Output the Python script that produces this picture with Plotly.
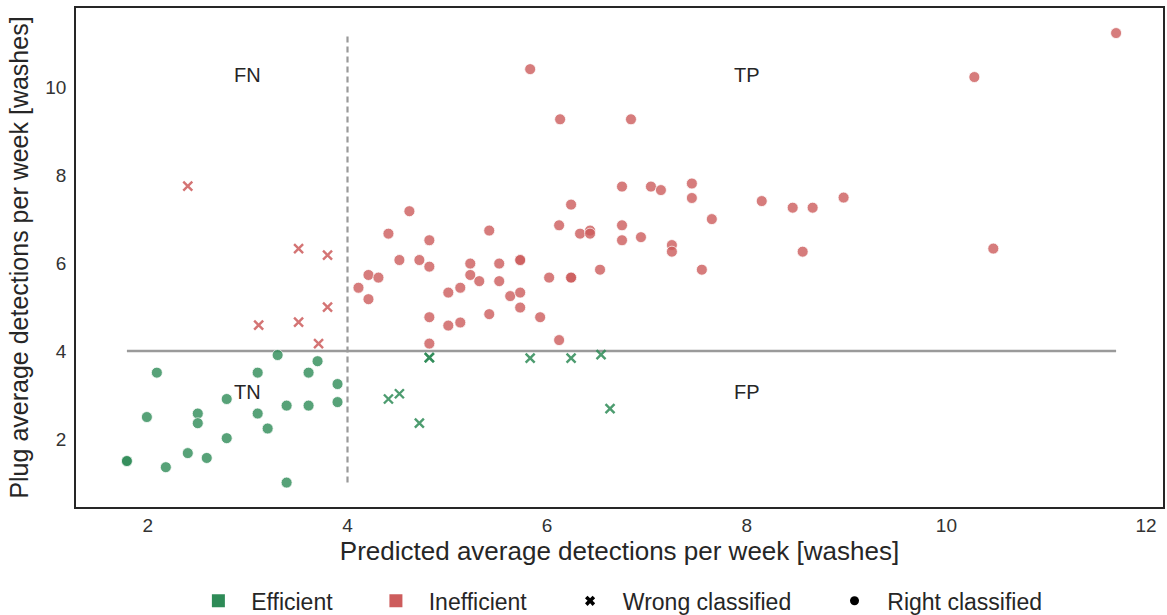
import plotly.graph_objects as go

# ---------------- data ----------------
THRESHOLD = 4

# Efficient, right classified (TN)
eff_right_x = [1.79, 1.79, 2.09, 1.99, 2.18, 2.40, 2.50, 2.50, 2.59, 2.79, 2.79,
               3.10, 3.10, 3.20, 3.30, 3.39, 3.39, 3.61, 3.61, 3.70, 3.90, 3.90]
eff_right_y = [1.50, 1.50, 3.51, 2.50, 1.36, 1.68, 2.58, 2.36, 1.57, 2.91, 2.02,
               3.51, 2.58, 2.24, 3.91, 2.76, 1.01, 3.51, 2.76, 3.77, 3.25, 2.84]

# Efficient, wrong classified (FP)
eff_wrong_x = [4.41, 4.52, 4.72, 4.82, 4.82, 5.83, 6.24, 6.54, 6.63]
eff_wrong_y = [2.91, 3.03, 2.36, 3.85, 3.85, 3.84, 3.84, 3.92, 2.69]

# Inefficient, wrong classified (FN)
ineff_wrong_x = [2.40, 3.11, 3.51, 3.51, 3.71, 3.80, 3.80]
ineff_wrong_y = [7.75, 4.59, 6.33, 4.66, 4.17, 6.18, 5.00]

# Inefficient, right classified (TP)
ineff_right_x = [4.11, 4.21, 4.21, 4.31, 4.41, 4.52, 4.62, 4.72, 4.82, 4.82, 4.82, 4.82,
                 5.01, 5.01, 5.13, 5.13, 5.23, 5.23, 5.32, 5.42, 5.42, 5.52, 5.52, 5.63,
                 5.73, 5.73, 5.73, 5.73, 5.93, 6.02, 6.12, 6.12, 6.24, 6.24, 6.24, 6.33,
                 6.43, 6.43, 6.53, 6.75, 6.75, 6.75, 6.94, 7.04, 7.14, 7.45, 7.45, 7.65,
                 7.25, 7.25, 7.55, 8.15, 8.46, 8.66, 8.97, 8.56, 10.47, 5.83, 6.13, 6.84,
                 10.28, 11.70]
ineff_right_y = [5.44, 5.73, 5.18, 5.67, 6.67, 6.07, 7.18, 6.07, 6.52, 5.92, 4.77, 4.17,
                 5.33, 4.58, 5.44, 4.65, 5.99, 5.73, 5.59, 6.74, 4.84, 5.99, 5.59, 5.25,
                 6.07, 6.07, 5.33, 4.99, 4.77, 5.67, 6.86, 4.25, 7.33, 5.67, 5.67, 6.67,
                 6.74, 6.67, 5.85, 7.74, 6.86, 6.52, 6.59, 7.74, 7.66, 7.81, 7.48, 7.00,
                 6.41, 6.26, 5.85, 7.41, 7.26, 7.26, 7.49, 6.26, 6.33, 10.41, 9.27, 9.27,
                 10.23, 11.23]

quadrant_labels = ["FN", "TP", "TN", "FP"]
quadrant_x = [3, 8, 3, 8]
quadrant_y = [10.27, 10.27, 3.07, 3.07]

legend_labels = ["Efficient", "Inefficient", "Wrong classified", "Right classified"]

# ---------------- style ----------------
GREEN = "#2e8b57"
RED = "#cd5c5c"
GREY = "#9a9a9a"
TXT = "#262626"
FONT = "Liberation Sans, Arial, sans-serif"

all_x = eff_right_x + eff_wrong_x + ineff_wrong_x + ineff_right_x
all_y = eff_right_y + eff_wrong_y + ineff_wrong_y + ineff_right_y

fig = go.Figure()

# threshold lines
fig.add_trace(go.Scatter(x=[min(all_x), max(all_x)], y=[THRESHOLD, THRESHOLD],
                         mode="lines", line=dict(color=GREY, width=2.5),
                         showlegend=False, hoverinfo="skip"))
fig.add_trace(go.Scatter(x=[THRESHOLD, THRESHOLD], y=[min(all_y), max(all_y)],
                         mode="lines", line=dict(color=GREY, width=2.2, dash="6px,4px"),
                         showlegend=False, hoverinfo="skip"))

circ = dict(size=11, opacity=0.8, line=dict(color="white", width=0.8))

fig.add_trace(go.Scatter(x=eff_right_x, y=eff_right_y, mode="markers",
                         marker=dict(color=GREEN, symbol="circle", **circ), showlegend=False))
fig.add_trace(go.Scatter(x=ineff_right_x, y=ineff_right_y, mode="markers",
                         marker=dict(color=RED, symbol="circle", **circ), showlegend=False))
fig.add_trace(go.Scatter(x=eff_wrong_x, y=eff_wrong_y, mode="markers",
                         marker=dict(color=GREEN, symbol="x-thin", size=9, opacity=0.85,
                                     line=dict(color=GREEN, width=2.4)),
                         showlegend=False))
fig.add_trace(go.Scatter(x=ineff_wrong_x, y=ineff_wrong_y, mode="markers",
                         marker=dict(color=RED, symbol="x-thin", size=9, opacity=0.85,
                                     line=dict(color=RED, width=2.4)),
                         showlegend=False))

# legend entries
pad_l = "\u00a0\u00a0"
pad_r = "\u00a0" * 6
leg_markers = [dict(color=GREEN, symbol="square", size=13),
               dict(color=RED, symbol="square", size=13),
               dict(color="black", symbol="x", size=9),
               dict(color="black", symbol="circle", size=9)]
for lab, mk in zip(legend_labels, leg_markers):
    fig.add_trace(go.Scatter(x=[None], y=[None], mode="markers", marker=mk,
                             name=pad_l + lab + pad_r, showlegend=True))

for t, qx, qy in zip(quadrant_labels, quadrant_x, quadrant_y):
    fig.add_annotation(x=qx, y=qy, text=t, showarrow=False,
                       font=dict(size=20, color=TXT, family=FONT))

fig.update_layout(
    width=1167, height=615,
    margin=dict(l=76, r=2, t=8, b=108),
    plot_bgcolor="white", paper_bgcolor="white",
    font=dict(family=FONT, color=TXT),
    legend=dict(orientation="h", xref="container", yref="container",
                x=0.170, xanchor="left", y=0.023, yanchor="middle",
                font=dict(size=23, color=TXT, family=FONT),
                itemclick=False, tracegroupgap=0),
    xaxis=dict(range=[1.28, 12.17], tickvals=[2, 4, 6, 8, 10, 12],
               showgrid=False, zeroline=False, ticks="",
               showline=True, mirror=True, linecolor="#262626", linewidth=1.5,
               tickfont=dict(size=19, color="#333333"),
               title=dict(text="Predicted average detections per week [washes]",
                          font=dict(size=26, color=TXT), standoff=7)),
    yaxis=dict(range=[0.455, 11.80], tickvals=[2, 4, 6, 8, 10],
               showgrid=False, zeroline=False, ticks="",
               showline=True, mirror=True, linecolor="#262626", linewidth=1.5,
               tickfont=dict(size=19, color="#333333"), ticklabelstandoff=4,
               title=dict(text="Plug average detections per week [washes]",
                          font=dict(size=25, color=TXT), standoff=10)),
)

fig.write_html("out.html")
